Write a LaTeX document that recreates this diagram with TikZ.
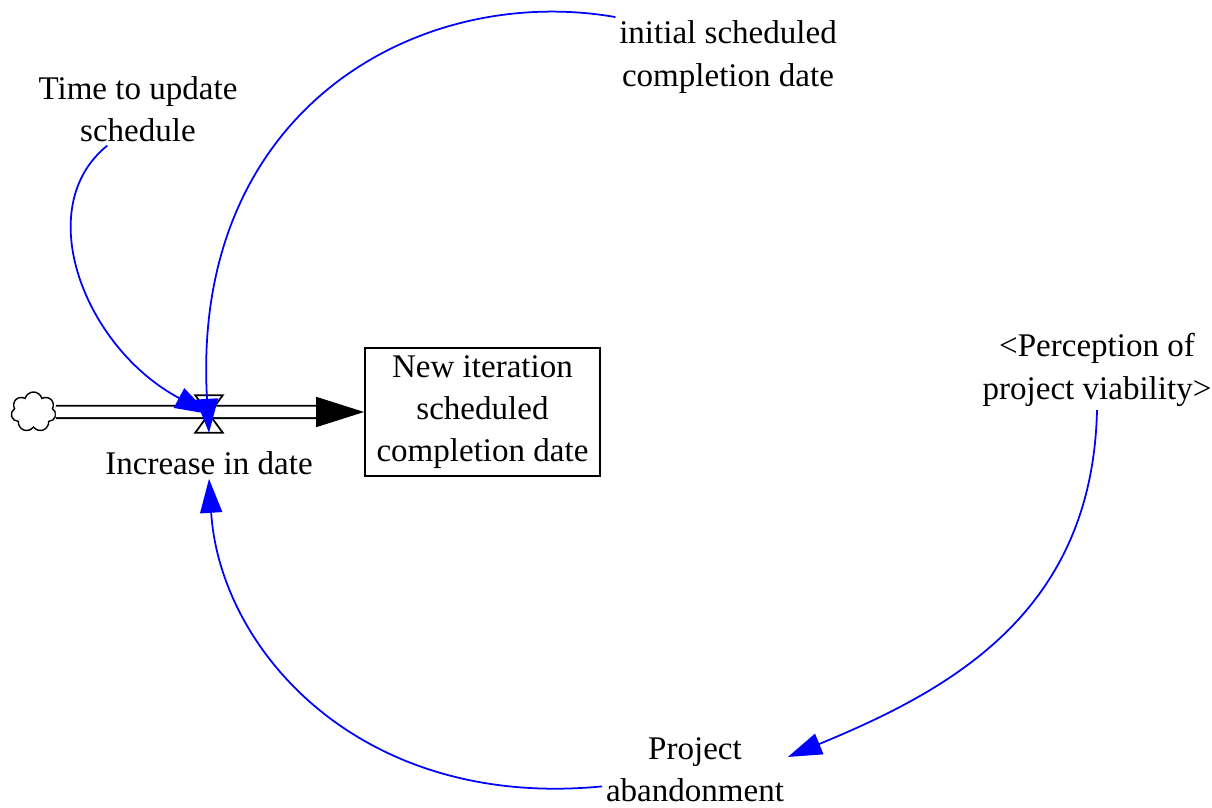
\documentclass[tikz,border=0pt]{standalone}
\usepackage{fontspec}
\setmainfont{Liberation Serif}
\usetikzlibrary{calc, positioning, arrows.meta, shapes.symbols}

\begin{document}
\begin{tikzpicture}[
    font=\fontsize{18.8}{24}\selectfont,
    var/.style={align=center, inner sep=2pt},
    link/.style={blue, line width=1pt, -{Triangle[length=0.68cm, width=0.44cm]}},
    pipe/.style={double, double distance=0.21cm, line width=1pt},
  ]

  \useasboundingbox (0, 0) rectangle (24.24, 16.16);

  % stock and flow
  \node[cloud, draw, line width=0.8pt, cloud puffs=7, minimum width=0.9cm, minimum height=0.8cm, inner sep=0] (source) at (0.67, 7.92) {};
  \node[draw, line width=1pt, minimum width=4.7cm, minimum height=2.56cm, align=center] (new-date) at (9.65, 7.92) {New iteration\\scheduled\\completion date};
  \node[inner sep=0, minimum width=0.54cm, minimum height=0.74cm] (valve) at (4.18, 7.88) {};
  \node[var, below=0.3 of valve] (increase) {Increase in date};

  \draw[pipe, shorten >=0.9cm] (source) to (new-date.west);
  \draw[line width=1pt, -{Triangle[length=0.96cm, width=0.6cm]}] ($(new-date.west) + (-0.96, 0)$) to (new-date.west);
  \draw[line width=1pt] (valve.north west) to (valve.north east) to (valve.south west) to (valve.south east) -- cycle;

  % variables
  \node[var] (time-update) at (2.76, 13.98)  {Time to update\\schedule};
  \node[var] (init-date)   at (14.56, 15.02) {initial scheduled\\completion date};
  \node[var] (perception)  at (21.94, 8.76)  {<Perception of\\project viability>};
  \node[var] (abandon)     at (13.9, 0.76)   {Project\\abandonment};

  % links
  \draw[link] (time-update.230) .. controls (0.6, 12.0) and (1.7, 9.2) .. (valve.center);
  \draw[link] (init-date.north west) .. controls (8.4, 16.5) and (3.8, 14.0) .. (valve.south);
  \draw[link] (perception.south) .. controls (21.85, 3.9) and (19.0, 2.36) .. (abandon.8);
  \draw[link] (abandon.190) .. controls (7.2, -0.04) and (4.4, 3.16) .. (increase.south);

\end{tikzpicture}
\end{document}
